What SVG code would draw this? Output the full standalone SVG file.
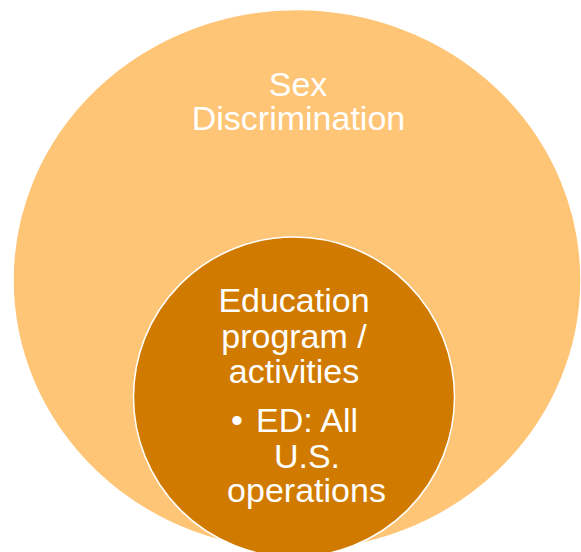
<svg xmlns="http://www.w3.org/2000/svg" width="581" height="552" viewBox="0 0 581 552">
<style>
.t{font-family:"Liberation Sans",Arial,sans-serif;fill:#fff;text-anchor:middle;font-size:34px}
.outer{fill:#FFC576;stroke:#fff;stroke-width:1.5}
.inner{fill:#D17A00;stroke:#fff;stroke-width:1.5}
</style>
<rect width="581" height="552" fill="#fff"/>
<g id="outer">
<ellipse class="outer" cx="297" cy="280" rx="284" ry="270.5"/>
<text class="t" x="298" y="96" font-size="33.6">Sex</text>
<text class="t" x="298.5" y="130" font-size="33.6">Discrimination</text>
</g>
<g id="inner">
<ellipse class="inner" cx="294" cy="397" rx="160.5" ry="160"/>
<text class="t" x="294" y="312">Education</text>
<text class="t" x="294" y="348">program /</text>
<text class="t" x="294" y="383">activities</text>
<text class="t" x="237" y="432">•</text>
<text class="t" x="307" y="432">ED: All</text>
<text class="t" x="307" y="468">U.S.</text>
<text class="t" x="306.5" y="502">operations</text>
</g>
<g id="connectors"/>
</svg>
